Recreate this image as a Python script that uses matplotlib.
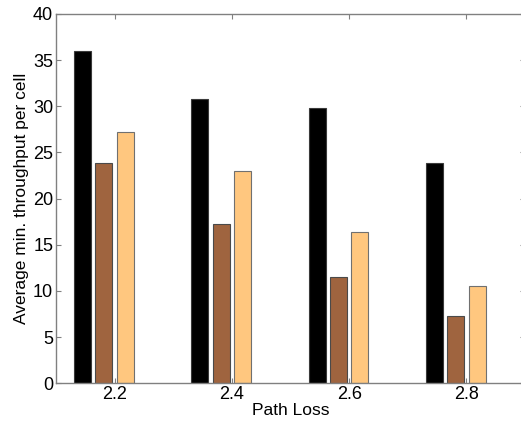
import numpy as np
import matplotlib.pyplot as plt

plt.rcParams['font.family'] = ['Liberation Sans', 'DejaVu Sans']

path_loss = ['2.2', '2.4', '2.6', '2.8']
scheme_a = [36.0, 30.8, 29.8, 23.9]
scheme_b = [23.9, 17.3, 11.5, 7.25]
scheme_c = [27.2, 23.0, 16.35, 10.55]

series = [scheme_a, scheme_b, scheme_c]
colors = ['#000000', '#9f643f', '#ffc77f']
edges = ['#3a3a3a', '#4a4a4a', '#707070']

fig = plt.figure(figsize=(5.21, 4.23), dpi=100)
ax = fig.add_axes([56 / 521, 39.7 / 423, 469 / 521, 369.3 / 423])

# grouped bars, four slots per group (last slot left empty)
x = np.arange(1, len(path_loss) + 1)
group_w = min(0.8, 4 / 5.5)
slot = group_w / 4
for i, (vals, c, ec) in enumerate(zip(series, colors, edges)):
    off = (i + 1 - 2.5) * slot
    ax.bar(x + off, vals, width=slot * 0.8, color=c, edgecolor=ec, linewidth=0.8)

ax.set_xlim(0.5, 4.5)
ax.set_ylim(0, 40)
ax.set_xticks(x)
ax.set_xticklabels(path_loss)
ax.set_yticks(np.arange(0, 41, 5))

for s in ax.spines.values():
    s.set_color('#808080')
    s.set_linewidth(1.0)
# right edge of the box falls just outside the saved figure
ax.spines['right'].set_visible(False)
ax.tick_params(direction='in', length=3.5, color='#808080', labelsize=13,
               top=True, right=True, pad=2)

ax.set_xlabel('Path Loss', fontsize=12.5, labelpad=0)
ax.set_ylabel('Average min. throughput per cell', fontsize=12.5, labelpad=3)

fig.savefig('out.png', dpi=100)
